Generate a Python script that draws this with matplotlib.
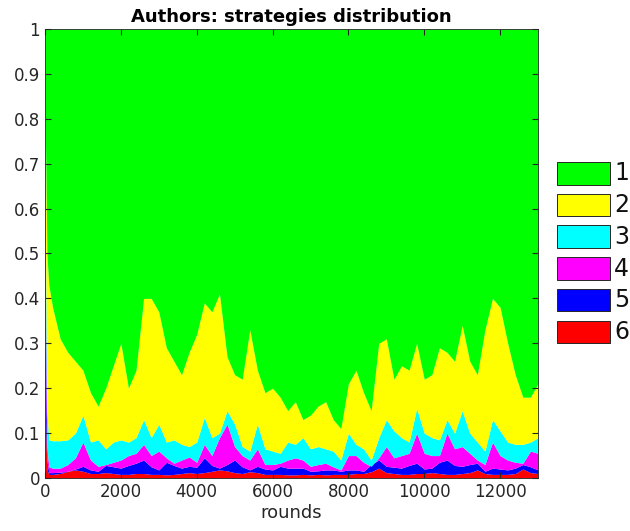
import numpy as np
import matplotlib
matplotlib.use("Agg")
import matplotlib.pyplot as plt
from matplotlib.patches import Rectangle

rounds = [0, 50, 100] + list(range(200, 13001, 200))

# cumulative share up to (and including) each strategy, bottom (6) to top (2)
cum_6 = [0.167, 0.02, 0.008,
         .008, .010, .015, .018, .015, .010, .010, .012, .010, .008,
         .008, .010, .010, .008, .008, .007, .008, .010, .012, .010,
         .012, .015, .018, .016, .012, .010, .014, .012, .008, .008,
         .008, .007, .007, .008, .007, .008, .007, .008, .008, .008,
         .010, .010, .014, .022, .012, .010, .008, .008, .010, .010,
         .012, .010, .008, .008, .010, .012, .018, .010, .008, .008,
         .008, .010, .020, .012, .010]
cum_5 = [0.333, 0.04, 0.012,
         .012, .013, .015, .020, .026, .018, .015, .028, .025, .022,
         .028, .033, .040, .025, .018, .035, .028, .022, .026, .024,
         .045, .028, .022, .030, .040, .025, .018, .026, .020, .018,
         .026, .022, .022, .022, .015, .016, .018, .018, .015, .018,
         .018, .015, .030, .040, .026, .024, .022, .028, .033, .020,
         .022, .035, .040, .028, .026, .030, .033, .015, .022, .020,
         .018, .022, .030, .025, .018]
cum_4 = [0.500, 0.07, 0.025,
         .022, .022, .030, .045, .080, .040, .026, .030, .035, .040,
         .050, .055, .075, .050, .060, .045, .033, .040, .047, .035,
         .075, .050, .090, .120, .070, .050, .040, .065, .030, .030,
         .033, .040, .045, .040, .026, .030, .033, .025, .018, .050,
         .050, .035, .026, .045, .070, .045, .050, .055, .100, .055,
         .050, .050, .100, .065, .070, .055, .040, .030, .080, .050,
         .040, .035, .033, .060, .055]
cum_3 = [0.667, 0.15, 0.085,
         .083, .083, .085, .100, .140, .080, .085, .065, .080, .085,
         .080, .090, .130, .090, .120, .080, .085, .075, .070, .080,
         .135, .090, .100, .150, .120, .070, .060, .120, .065, .060,
         .055, .080, .075, .090, .065, .070, .065, .060, .040, .100,
         .075, .065, .040, .090, .130, .105, .090, .080, .155, .100,
         .090, .085, .130, .100, .150, .100, .080, .060, .130, .105,
         .080, .075, .075, .080, .090]
cum_2 = [0.833, 0.50, 0.43,
         .38, .31, .28, .26, .24, .19, .16, .20, .25, .30,
         .20, .24, .40, .40, .37, .29, .26, .23, .28, .32,
         .39, .37, .41, .27, .23, .22, .33, .24, .19, .20,
         .18, .15, .17, .13, .14, .16, .17, .13, .11, .21,
         .24, .19, .15, .30, .31, .22, .25, .24, .30, .22,
         .23, .29, .28, .26, .34, .26, .23, .33, .40, .38,
         .30, .23, .18, .18, .21]
cum_1 = [1.0] * len(rounds)

labels = ["1", "2", "3", "4", "5", "6"]
colors = ["#00ff00", "#ffff00", "#00ffff", "#ff00ff", "#0000ff", "#ff0000"]

x = np.array(rounds, dtype=float)
bounds = [np.zeros_like(x)] + [np.array(c) for c in (cum_6, cum_5, cum_4, cum_3, cum_2, cum_1)]

W, H = 630, 531
fig = plt.figure(figsize=(W / 100, H / 100), dpi=100)
ax = fig.add_axes([45 / W, 1 - 478 / H, 493 / W, 449 / H])

layer_colors = colors[::-1]  # bottom: 6 (red) ... top: 1 (green)
for i in range(6):
    ax.fill_between(x, bounds[i], bounds[i + 1], color=layer_colors[i], linewidth=0)

ax.set_xlim(0, 13000)
ax.set_ylim(0, 1)
ax.set_xticks(range(0, 12001, 2000))
ax.set_yticks(np.arange(0, 1.01, 0.1))
ax.set_yticklabels(["0", "0.1", "0.2", "0.3", "0.4", "0.5", "0.6", "0.7", "0.8", "0.9", "1"])
ax.tick_params(direction="in", top=True, right=True, labelsize=12, length=4,
               color="#262626", labelcolor="#262626")
for s in ax.spines.values():
    s.set_color("#262626")
    s.set_linewidth(0.6)
ax.set_xlabel("rounds", fontsize=13, color="#262626", labelpad=2)
ax.set_title("Authors: strategies distribution", fontsize=13, fontweight="bold", pad=5)

# legend drawn outside the axes on the right
for i, (c, lab) in enumerate(zip(colors, labels)):
    top = 162 + i * 31.7
    fig.add_artist(Rectangle((557 / W, 1 - (top + 22.5) / H), 53 / W, 22.5 / H,
                             transform=fig.transFigure, facecolor=c,
                             edgecolor="#262626", linewidth=0.7))
    fig.text(614 / W, 1 - (top + 11.5) / H, lab, fontsize=17, color="#111111",
             ha="left", va="center")

fig.savefig("out.png", dpi=100)
